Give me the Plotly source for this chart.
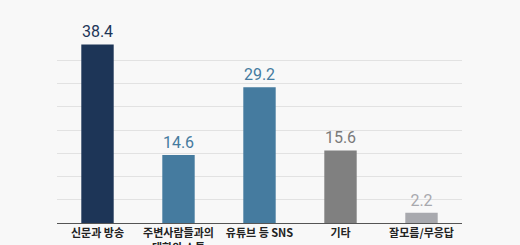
import plotly.graph_objects as go

categories = ["신문과 방송", "주변사람들과의<br>대화와 소통", "유튜브 등 SNS", "기타", "잘모름/무응답"]
values = [38.4, 14.6, 29.2, 15.6, 2.2]
colors = ["#1d3557", "#457b9f", "#457b9f", "#808080", "#a8a9ae"]
label_colors = ["#1d3557", "#457b9f", "#457b9f", "#7a7a7a", "#a8a9ae"]

fig = go.Figure(go.Bar(
    x=categories, y=values,
    marker=dict(color=colors, line=dict(width=0)),
    text=[f"{v:.1f}" for v in values],
    textposition="outside",
    textfont=dict(color=label_colors, size=16, family="Roboto"),
    cliponaxis=False,
))

fig.update_layout(
    width=520, height=245,
    margin=dict(l=57, r=58, t=37, b=22),
    paper_bgcolor="#f8f8f8", plot_bgcolor="#f8f8f8",
    bargap=0.6,
    showlegend=False,
    font=dict(family="Noto Sans CJK KR"),
    yaxis=dict(range=[0, 40], dtick=5, showticklabels=False, automargin=False,
               gridcolor="#e2e2e2", gridwidth=1, zeroline=False, fixedrange=True),
    xaxis=dict(showline=True, linecolor="#555555", linewidth=1, automargin=False,
               tickfont=dict(size=11, color="#222222", family="Noto Sans CJK KR", weight=600),
               ticks="", fixedrange=True),
)

fig.write_html("out.html")
